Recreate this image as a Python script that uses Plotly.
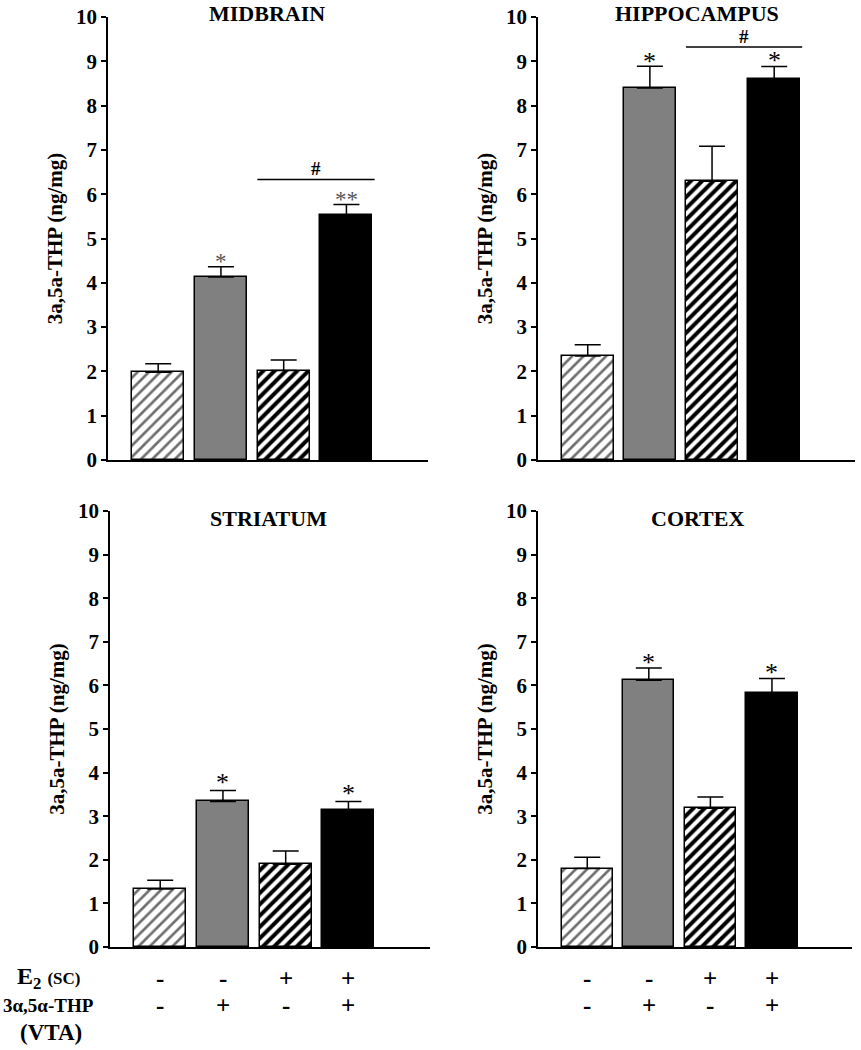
import plotly.graph_objects as go

# ---------------- data ----------------
regions = ["MIDBRAIN", "HIPPOCAMPUS", "STRIATUM", "CORTEX"]
groups = [0, 1, 2, 3]  # four treatment groups
e2_sc = ["-", "-", "+", "+"]
thp_vta = ["-", "+", "-", "+"]

midbrain_mean = [1.98, 4.13, 2.02, 5.52]
midbrain_sem = [0.19, 0.23, 0.24, 0.25]
hippocampus_mean = [2.35, 8.40, 6.29, 8.59]
hippocampus_sem = [0.25, 0.49, 0.79, 0.29]
striatum_mean = [1.33, 3.34, 1.90, 3.15]
striatum_sem = [0.20, 0.25, 0.30, 0.19]
cortex_mean = [1.80, 6.12, 3.18, 5.82]
cortex_sem = [0.26, 0.28, 0.26, 0.34]

y_ticks = [0, 1, 2, 3, 4, 5, 6, 7, 8, 9, 10]

means = [midbrain_mean, hippocampus_mean, striatum_mean, cortex_mean]
sems = [midbrain_sem, hippocampus_sem, striatum_sem, cortex_sem]

# significance marks: (text, group, y-value)
stars = [
    [("*", 1, 4.62), ("**", 3, 6.02)],
    [("*", 1, 9.12), ("*", 3, 9.15)],
    [("*", 1, 3.90), ("*", 3, 3.66)],
    [("*", 1, 6.66), ("*", 3, 6.43)],
]
hash_marks = {0: 6.33, 1: 9.32}

# ---------------- styling ----------------
W, H = 861, 1050
FONT = "Liberation Serif, Times New Roman, serif"

def px_x(p):
    return p / W

def px_y(p):
    return 1 - p / H

panel_x = [(108, 428), (538, 855), (110, 430), (538, 852)]
panel_y = [(17, 460), (17, 460), (511, 947), (511, 947)]
title_y = [13, 13, 518, 518]
title_x = [267, 697, 268, 697]

fill_colors = ["white", "#808080", "white", "black"]
pat_shapes = ["/", "", "/", ""]
pat_fg = ["#6e6e6e", "#808080", "black", "black"]
pat_solid = [0.33, 0.3, 0.5, 0.3]

fig = go.Figure()
annotations = []
shapes = []

for i in range(4):
    ax = "" if i == 0 else str(i + 1)
    xa, ya = "x" + ax, "y" + ax
    for g in groups:
        marker = dict(color=fill_colors[g], line=dict(color="black", width=1.5))
        if pat_shapes[g]:
            marker["pattern"] = dict(shape=pat_shapes[g], fgcolor=pat_fg[g],
                                     bgcolor=fill_colors[g], size=8, fgopacity=1,
                                     solidity=pat_solid[g], fillmode="replace")
        fig.add_trace(go.Bar(
            x=[g], y=[means[i][g]], width=0.83,
            xaxis=xa, yaxis=ya, marker=marker,
            error_y=dict(type="data", symmetric=False, array=[sems[i][g]],
                         arrayminus=[0], color="black", thickness=1.5, width=13),
            showlegend=False, hoverinfo="skip",
        ))
    x0, x1 = panel_x[i]
    yt, yb = panel_y[i]
    fig.update_layout(**{
        "xaxis" + ax: dict(domain=[px_x(x0), px_x(x1)], range=[-0.8, 4.3],
                           showline=True, linecolor="black", linewidth=1.5,
                           showticklabels=False, ticks="", showgrid=False,
                           zeroline=False, anchor=ya, fixedrange=True, automargin=False),
        "yaxis" + ax: dict(domain=[px_y(yb), px_y(yt)], range=[0, 10],
                           tickvals=y_ticks, ticks="outside", ticklen=5,
                           tickwidth=1.5, tickcolor="black",
                           showline=True, linecolor="black", linewidth=1.5,
                           showgrid=False, zeroline=False, anchor=xa, automargin=False,
                           tickfont=dict(family=FONT, size=21, color="black", weight="bold"),
                           title=dict(text="3a,5a-THP (ng/mg)", standoff=8,
                                      font=dict(family=FONT, size=21, color="black", weight="bold")),
                           fixedrange=True),
    })
    # panel title
    annotations.append(dict(text="<b>" + regions[i] + "</b>", xref="paper", yref="paper",
                            x=px_x(title_x[i]), y=px_y(title_y[i]), showarrow=False,
                            xanchor="center", yanchor="middle",
                            font=dict(family=FONT, size=22, color="black")))
    # stars
    star_col = "#555555" if i == 0 else "black"
    star_size = 23 if i == 0 else 26
    for txt, g, yv in stars[i]:
        annotations.append(dict(text=txt, xref=xa, yref=ya, x=g, y=yv, showarrow=False,
                                xanchor="center", yanchor="middle", yshift=-6,
                                font=dict(family=FONT, size=star_size, color=star_col)))
    if i in hash_marks:
        yh = hash_marks[i]
        shapes.append(dict(type="line", xref=xa, yref=ya, x0=1.58, x1=3.45, y0=yh, y1=yh,
                           line=dict(color="black", width=1.5)))
        annotations.append(dict(text="<b>#</b>", xref=xa, yref=ya, x=2.52, y=yh,
                                showarrow=False, xanchor="center", yanchor="middle", yshift=11,
                                font=dict(family=FONT, size=19, color="black")))
    # treatment rows for bottom panels
    if i >= 2:
        for g in groups:
            annotations.append(dict(text="<b>" + e2_sc[g] + "</b>", xref=xa, yref="paper",
                                    x=g, y=px_y(978), showarrow=False, xanchor="center",
                                    yanchor="middle", font=dict(family=FONT, size=25, color="black")))
            annotations.append(dict(text="<b>" + thp_vta[g] + "</b>", xref=xa, yref="paper",
                                    x=g, y=px_y(1005), showarrow=False, xanchor="center",
                                    yanchor="middle", font=dict(family=FONT, size=25, color="black")))

# row labels on the left
annotations.append(dict(text="<b>E<sub>2</sub> <span style='font-size:17px'>(SC)</span></b>",
                        xref="paper", yref="paper", x=px_x(48), y=px_y(978),
                        showarrow=False, xanchor="center", yanchor="middle",
                        font=dict(family=FONT, size=24, color="black")))
annotations.append(dict(text="<b>3α,5α-THP</b>", xref="paper", yref="paper",
                        x=px_x(48), y=px_y(1005), showarrow=False, xanchor="center",
                        yanchor="middle", font=dict(family=FONT, size=19, color="black")))
annotations.append(dict(text="<b>(VTA)</b>", xref="paper", yref="paper",
                        x=px_x(51), y=px_y(1032), showarrow=False, xanchor="center",
                        yanchor="middle", font=dict(family=FONT, size=23, color="black")))

fig.update_layout(width=W, height=H, margin=dict(l=0, r=0, t=0, b=0, autoexpand=False),
                  paper_bgcolor="white", plot_bgcolor="white",
                  annotations=annotations, shapes=shapes, bargap=0, barmode="overlay")

fig.write_html("out.html", config={"displayModeBar": False},
               post_script="document.body.style.margin='0';")
